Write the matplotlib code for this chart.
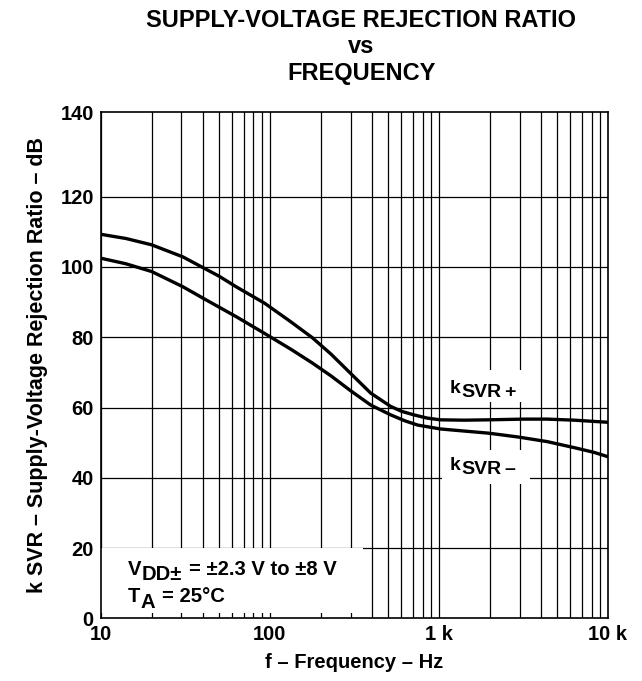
import matplotlib
matplotlib.use('Agg')
from matplotlib import pyplot as plt
from matplotlib.patches import Rectangle
from matplotlib.ticker import NullLocator
from matplotlib.transforms import offset_copy

plt.rcParams['font.family'] = ['Liberation Sans', 'DejaVu Sans']
plt.rcParams['font.weight'] = 'bold'

# values
freqPlus = [10, 14.1, 20, 30.5, 41, 50, 63, 93, 133, 178, 230, 302, 395, 519, 603, 712, 851,
            1020, 1413, 1970, 3162, 4370, 6310, 10000]
ksvrPlus = [109.3, 108.1, 106.3, 102.9, 99.6, 97.4, 94.4, 89.7, 84.4, 79.9, 75.2, 69.6, 64.1, 60.3, 58.9, 57.9, 57.0,
            56.5, 56.4, 56.5, 56.7, 56.7, 56.4, 55.8]

freqMinus = [10, 14.1, 20, 30.5, 41, 63, 93, 133, 178, 230, 300, 395, 519, 630, 750, 1020, 1413,
             1970, 2951, 4370, 6560, 8318, 10000]
ksvrMinus = [102.5, 100.9, 98.7, 94.4, 90.9, 85.9, 81.1, 76.6, 72.7, 69.0, 64.8, 60.7, 57.9, 56.2, 55.0, 53.9, 53.3,
             52.7, 51.6, 50.3, 48.4, 47.2, 46.0]

xTicks = [10, 100, 1000, 10000]
xTickLabels = ['10', '100', '1 k', '10 k']
yTicks = [0, 20, 40, 60, 80, 100, 120, 144]
yTickLabels = ['0', '20', '40', '60', '80', '100', '120', '140']

figure = plt.figure(figsize=(6.42, 6.81), dpi=100)
axis = figure.add_axes([0.157, 0.092, 0.790, 0.743])

axis.set_xscale('log')
axis.set_xlim(10, 10000)
axis.set_ylim(0, 144)


def drawPieces(x, y, pieces, fontsize):
    # text made of pieces, each (string, gap before in pt, vertical shift in pt)
    renderer = figure.canvas.get_renderer()
    shift = 0.
    for text, gap, dy in pieces:
        shift += gap
        piece = axis.text(x, y, text, fontsize=fontsize, fontweight='bold', va='baseline', zorder=4,
                          transform=offset_copy(axis.transData, fig=figure, x=shift, y=dy, units='points'))
        shift += piece.get_window_extent(renderer).width * 72. / figure.dpi


# grid: every minor decade line and every 20 dB
for decade in (10, 100, 1000):
    for m in range(1, 10):
        axis.axvline(decade * m, color='black', linewidth=0.9, zorder=1)
for level in (20, 40, 60, 80, 100, 120):
    axis.axhline(level, color='black', linewidth=0.9, zorder=1)

# white areas behind the notes
axis.add_patch(Rectangle((10, 1.4), 345, 18.5, facecolor='white', edgecolor='none', zorder=2))
axis.add_patch(Rectangle((1109, 61.6), 3120 - 1109, 9.1, facecolor='white', edgecolor='none', zorder=2))
axis.add_patch(Rectangle((1040, 38.3), 3476 - 1040, 9.6, facecolor='white', edgecolor='none', zorder=2))

axis.plot(freqPlus, ksvrPlus, color='black', linewidth=2.4, zorder=3, solid_capstyle='butt')
axis.plot(freqMinus, ksvrMinus, color='black', linewidth=2.4, zorder=3, solid_capstyle='butt')

drawPieces(1156, 64.2, [('k', 0, 0), ('SVR', 0.5, -3), ('+', 2.5, -3)], 14)
drawPieces(1156, 42.2, [('k', 0, 0), ('SVR', 0.5, -3), ('–', 2.5, -3)], 14)

drawPieces(14.5, 12.4, [('V', 0, 0), ('DD±', 0.3, -3.6), ('= ±2.3 V to ±8 V', 5, 0)], 14.6)
drawPieces(14.5, 4.7, [('T', 0, 0), ('A', 0.2, -4.3), ('= 25°C', 5, 0)], 14.6)

axis.set_xticks(xTicks)
axis.set_xticklabels(xTickLabels, fontsize=14.5, fontweight='bold')
axis.xaxis.set_minor_locator(NullLocator())
axis.set_yticks(yTicks)
axis.set_yticklabels(yTickLabels, fontsize=14.5, fontweight='bold')
axis.tick_params(length=0, pad=5)

axis.set_xlabel('f – Frequency – Hz', fontsize=14.5, fontweight='bold', labelpad=6)
axis.set_ylabel('k SVR – Supply-Voltage Rejection Ratio – dB', fontsize=15.5, fontweight='bold', labelpad=9)

for spine in axis.spines.values():
    spine.set_linewidth(1.2)
    spine.set_zorder(5)

figure.text(0.563, 0.970, 'SUPPLY-VOLTAGE REJECTION RATIO', fontsize=17, fontweight='bold', ha='center', va='center')
figure.text(0.563, 0.931, 'vs', fontsize=17, fontweight='bold', ha='center', va='center')
figure.text(0.563, 0.892, 'FREQUENCY', fontsize=17, fontweight='bold', ha='center', va='center')

plt.savefig('out.png', dpi=100)
